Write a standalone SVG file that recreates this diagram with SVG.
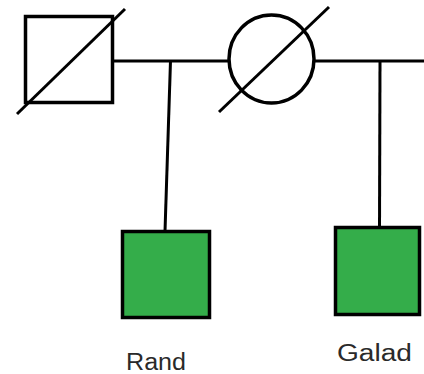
<svg xmlns="http://www.w3.org/2000/svg" width="424" height="374" viewBox="0 0 424 374">
  <style>
    .ln { stroke: #000; stroke-width: 3; fill: none; stroke-linecap: butt; }
    .person { stroke: #000; stroke-width: 3.5; }
    .deceased { fill: #fff; }
    .child { fill: #34ad4a; }
    .name { font-family: "Liberation Sans", Arial, sans-serif; font-size: 23px; fill: #2a2a2a; }
  </style>
  <rect width="424" height="374" fill="#fff"/>

  <!-- couple line and descent lines -->
  <g id="connectors">
    <line class="ln" x1="113" y1="61" x2="230" y2="61"/>
    <line class="ln" x1="314" y1="61" x2="424" y2="61"/>
    <line class="ln" x1="170.5" y1="61" x2="165" y2="231"/>
    <line class="ln" x1="380" y1="61" x2="379.5" y2="228"/>
  </g>

  <!-- deceased father -->
  <g id="father">
    <rect class="person deceased" x="25.5" y="16.5" width="87" height="86"/>
    <line class="ln" x1="17" y1="114" x2="125" y2="9"/>
  </g>

  <!-- deceased mother -->
  <g id="mother">
    <ellipse class="person deceased" cx="271.5" cy="59" rx="42.5" ry="44" stroke-width="3"/>
    <line class="ln" x1="219" y1="112" x2="329" y2="7"/>
  </g>

  <g id="rand">
    <rect class="person child" x="122.5" y="231.5" width="87" height="86"/>
    <text class="name" x="126" y="370" textLength="60" lengthAdjust="spacingAndGlyphs">Rand</text>
  </g>

  <g id="galad">
    <rect class="person child" x="335.5" y="227.5" width="84" height="87"/>
    <text class="name" x="337" y="361" textLength="75" lengthAdjust="spacingAndGlyphs">Galad</text>
  </g>
</svg>
